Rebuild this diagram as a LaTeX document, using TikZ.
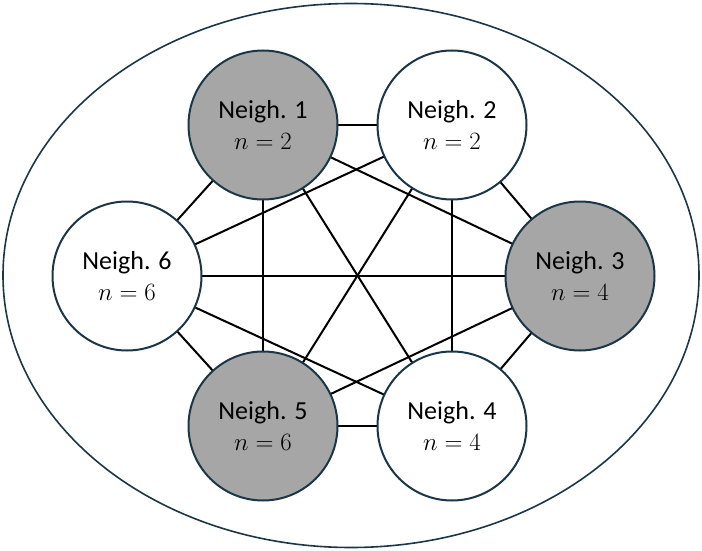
\documentclass[tikz,border=0pt]{standalone}
\usepackage{fontspec}
\setmainfont{Carlito}
\usetikzlibrary{backgrounds,shapes.geometric}
\definecolor{navy}{HTML}{1B3747}
\definecolor{nodegray}{HTML}{A6A6A6}
\tikzset{
  x=1pt,y=-1pt,
  nb/.style={circle,draw=navy,line width=2pt,minimum size=149pt,inner sep=0pt,align=center,font=\fontsize{26}{31}\selectfont},
  gnb/.style={nb,fill=nodegray},
  wnb/.style={nb,fill=white},
  edge/.style={draw=black,line width=2pt}
}
\begin{document}
\begin{tikzpicture}
\useasboundingbox (0,0) rectangle (702,551);
\node[draw=navy,line width=1.6pt,ellipse,minimum width=696pt,minimum height=544pt,inner sep=0pt] (outer) at (351,275.5) {};
\node[gnb] (n1) at (263,125) {Neigh. 1\\$n=2$};
\node[wnb] (n2) at (452,125) {Neigh. 2\\$n=2$};
\node[gnb] (n3) at (580,276) {Neigh. 3\\$n=4$};
\node[wnb] (n4) at (452,426) {Neigh. 4\\$n=4$};
\node[gnb] (n5) at (263,426) {Neigh. 5\\$n=6$};
\node[wnb] (n6) at (127,276) {Neigh. 6\\$n=6$};
\begin{scope}[on background layer]
\foreach \a/\b in {n1/n2,n1/n3,n1/n4,n1/n5,n1/n6,n2/n3,n2/n4,n2/n5,n2/n6,n3/n4,n3/n5,n3/n6,n4/n5,n4/n6,n5/n6}
  \draw[edge] (\a.center) -- (\b.center);
\end{scope}
\end{tikzpicture}
\end{document}
